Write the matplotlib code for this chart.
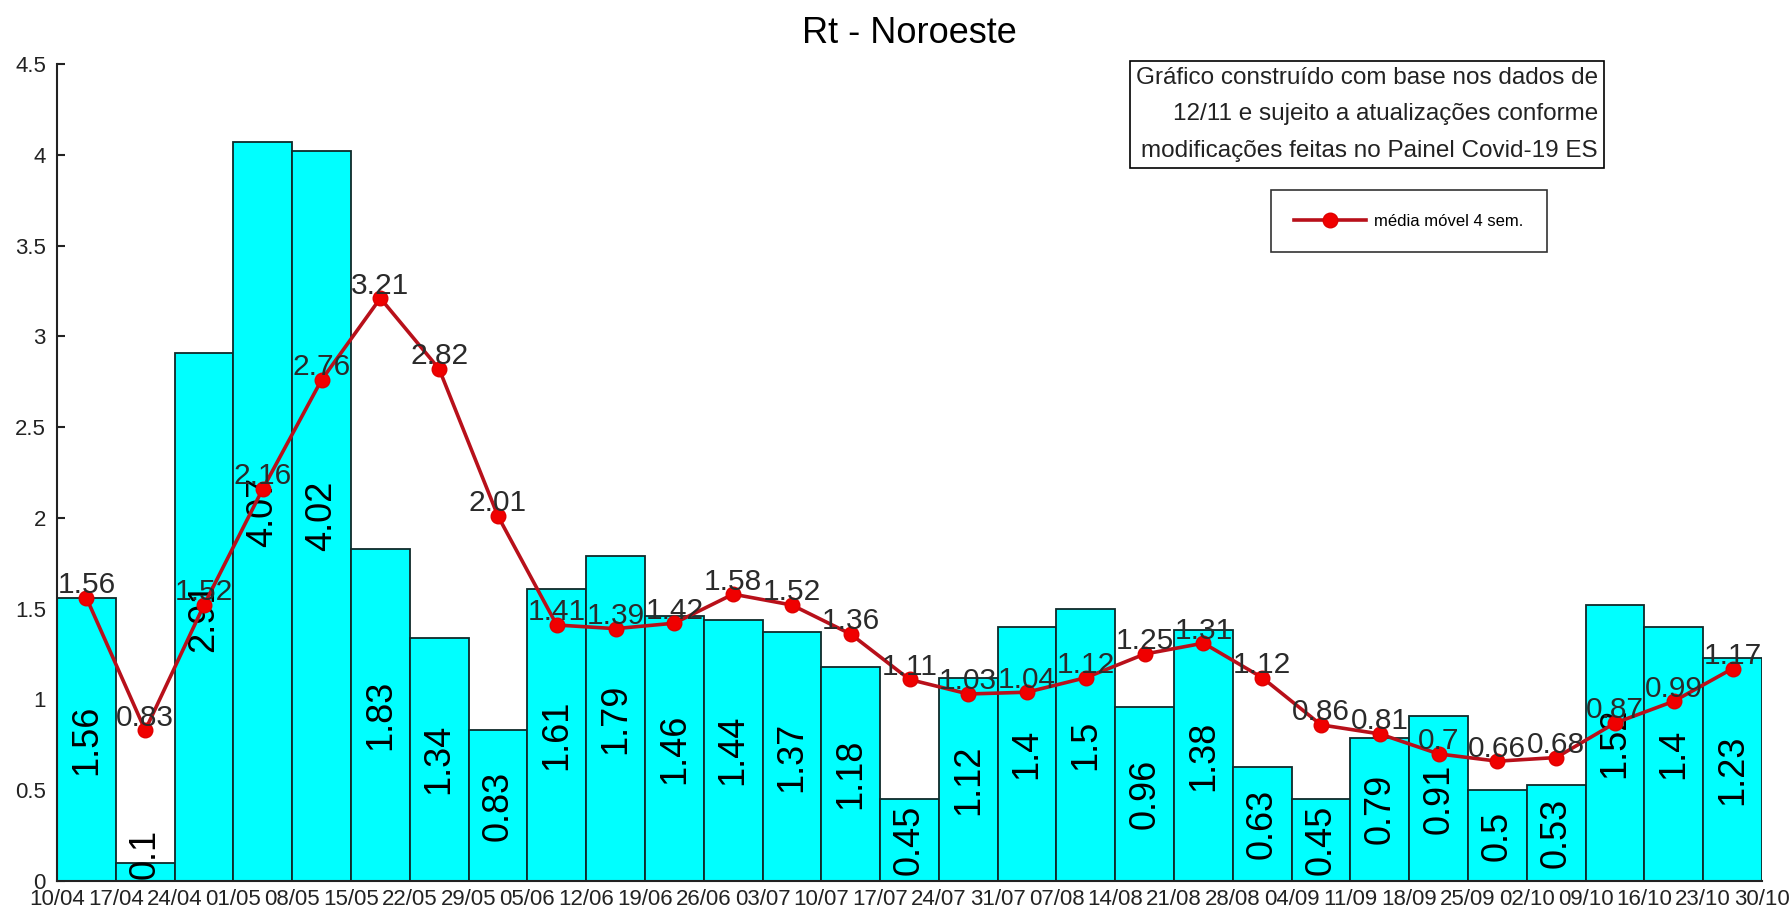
import matplotlib
matplotlib.use("Agg")
import matplotlib.pyplot as plt
from matplotlib.ticker import FuncFormatter, MultipleLocator
from matplotlib.lines import Line2D
import numpy as np

week_labels = ["10/04", "17/04", "24/04", "01/05", "08/05", "15/05", "22/05", "29/05",
               "05/06", "12/06", "19/06", "26/06", "03/07", "10/07", "17/07", "24/07",
               "31/07", "07/08", "14/08", "21/08", "28/08", "04/09", "11/09", "18/09",
               "25/09", "02/10", "09/10", "16/10", "23/10", "30/10"]
rt_values = [1.56, 0.1, 2.91, 4.07, 4.02, 1.83, 1.34, 0.83, 1.61, 1.79, 1.46, 1.44,
             1.37, 1.18, 0.45, 1.12, 1.4, 1.5, 0.96, 1.38, 0.63, 0.45, 0.79, 0.91,
             0.5, 0.53, 1.52, 1.4, 1.23]
moving_avg = [1.56, 0.83, 1.52, 2.16, 2.76, 3.21, 2.82, 2.01, 1.41, 1.39, 1.42, 1.58,
              1.52, 1.36, 1.11, 1.03, 1.04, 1.12, 1.25, 1.31, 1.12, 0.86, 0.81, 0.7,
              0.66, 0.68, 0.87, 0.99, 1.17]
title = "Rt - Noroeste"
note = ("Gráfico construído com base nos dados de\n"
        "12/11 e sujeito a atualizações conforme\n"
        "modificações feitas no Painel Covid-19 ES")
legend_label = "média móvel 4 sem."

plt.rcParams['font.family'] = ['Liberation Sans', 'DejaVu Sans']

W, H = 1792, 911
fig = plt.figure(figsize=(W / 100, H / 100), dpi=100)
ax = fig.add_axes([57 / W, 1 - 881 / H, (1762 - 57) / W, (881 - 64) / H])

n = len(rt_values)
centers = np.arange(n) + 0.5
ax.bar(centers, rt_values, width=1.0, color='#00ffff', edgecolor='#0f2a2a',
       linewidth=1.3, zorder=2)

for x, v in zip(centers, rt_values):
    ax.text(x, max(v / 2, 0.15), f"{v:g}", rotation=90, ha='center', va='center',
            fontsize=26, color='black', zorder=3)

ax.plot(centers, moving_avg, color='#b8101a', linewidth=2.6, marker='o',
        markersize=10.5, markerfacecolor='#f00000', markeredgecolor='#e00000',
        zorder=4)
for x, v in zip(centers, moving_avg):
    ax.annotate(f"{v:g}", (x, v), xytext=(0, -1), textcoords='offset points',
                ha='center', va='bottom', fontsize=21.5, color='#2a2a2a', zorder=5)

ax.set_xlim(0, n)
ax.set_ylim(0, 4.5)
ax.set_xticks(np.arange(len(week_labels)))
ax.set_xticklabels(week_labels, fontsize=16)
ax.yaxis.set_major_locator(MultipleLocator(0.5))
ax.yaxis.set_major_formatter(FuncFormatter(lambda v, p: f"{v:g}"))
ax.tick_params(axis='y', direction='in', length=6, width=1.5, labelsize=16, pad=8,
               colors='#222222')
ax.tick_params(axis='x', length=0, pad=6, colors='#222222')
for s in ['top', 'right']:
    ax.spines[s].set_visible(False)
for s in ['left', 'bottom']:
    ax.spines[s].set_linewidth(1.5)
    ax.spines[s].set_color('#222222')

ax.set_title(title, fontsize=26, pad=15)

fig.text(1598 / W, 1 - 67 / H, note, ha='right', va='top', multialignment='right',
         fontsize=17.5, color='#222222', linespacing=1.85,
         bbox=dict(boxstyle='square,pad=0.25', facecolor='white', edgecolor='black',
                   linewidth=1.2))

handle = Line2D([], [], color='#b8101a', linewidth=2.6, marker='o', markersize=10.5,
                markerfacecolor='#f00000', markeredgecolor='#e00000')
leg = fig.legend([handle], [legend_label], loc='center',
                 bbox_to_anchor=(1409 / W, 1 - 221 / H), fontsize=12,
                 frameon=True, fancybox=False, edgecolor='black', borderpad=1.4,
                 handlelength=4.3, handletextpad=0.5)
leg.get_frame().set_linewidth(1.2)

fig.savefig("out.png", dpi=100)
